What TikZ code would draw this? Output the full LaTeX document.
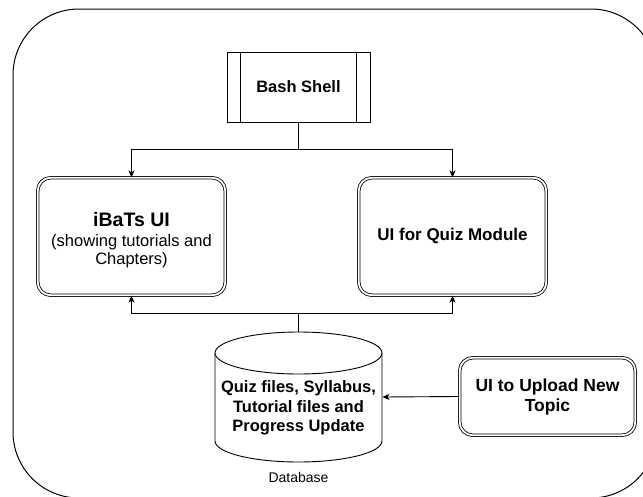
\documentclass[tikz,border=0pt]{standalone}
\usepackage{fontspec}
\setmainfont{Liberation Sans}
\usetikzlibrary{arrows.meta}
\begin{document}
\begin{tikzpicture}[x=1pt,y=-1pt,
  line width=0.9pt,
  conn/.style={draw=black, line width=0.9pt},
  tip/.style={-{Stealth[length=7pt,width=6pt,inset=2pt]}},
  dbox/.style={draw=black, double=white, double distance=1.8pt, line width=0.8pt,
    rounded corners=13pt, align=center, inner sep=2pt},
  bashbox/.style={draw=black, line width=0.9pt, minimum width=143pt, minimum height=70pt,
    font=\fontsize{16.5}{20}\selectfont\bfseries},
  frame/.style={draw=black, line width=1pt, rounded corners=66pt}
]
\useasboundingbox (0,0) rectangle (643,496);
\begin{scope}
  \clip (0,0) rectangle (643,496);
  \node[frame, minimum width=644pt, minimum height=489pt, inner sep=0pt] (outer) at (335,253.5) {};
\end{scope}

% Bash shell (process shape)
\node[bashbox] (bash) at (298.5,87) {Bash Shell};
\draw ([xshift=14pt]bash.north west) -- ([xshift=14pt]bash.south west);
\draw ([xshift=-14pt]bash.north east) -- ([xshift=-14pt]bash.south east);

% UI boxes
\node[dbox, minimum width=187.5pt, minimum height=117.5pt] (ibats) at (131.5,236.5) {};
\node[align=center, font=\fontsize{16.5}{17.5}\selectfont] (ibatstext) at (131.5,240)
  {{\fontsize{19.5}{23}\selectfont\bfseries iBaTs UI}\\[3pt]
   (showing tutorials and\\
   Chapters)};
\node[dbox, minimum width=187.5pt, minimum height=117.5pt,
  font=\fontsize{17}{20}\selectfont\bfseries] (quiz) at (452.5,236.5) {UI for Quiz Module};

% Database cylinder
\node[minimum width=167pt, minimum height=130pt, inner sep=0pt] (db) at (298.5,397) {};
\draw (215,353) -- (215,441) arc[start angle=180, end angle=360, x radius=83.5pt, y radius=21pt] -- (382,353);
\draw[fill=white] (298.5,353) ellipse [x radius=83.5pt, y radius=21pt];
\node[align=center, font=\fontsize{16.5}{19.5}\selectfont\bfseries] (dbtext) at (298.5,408)
  {Quiz files, Syllabus,\\Tutorial files and\\Progress Update};
\node[font=\fontsize{14}{16}\selectfont] (dblabel) at (298.5,477) {Database};

% Upload box
\node[dbox, minimum width=175.5pt, minimum height=77.5pt,
  font=\fontsize{17.5}{20}\selectfont\bfseries] (upload) at (547.5,396.5)
  {UI to Upload New\\Topic};

% connectors
\coordinate (topj) at (298.5,149);
\coordinate (botj) at (298.5,313);
\draw[conn] (bash.south) -- (topj);
\draw[conn, tip] (topj) -| (ibats.north);
\draw[conn, tip] (topj) -| (quiz.north);
\draw[conn] (db.north) -- (botj);
\draw[conn, tip] (botj) -| (ibats.south);
\draw[conn, tip] (botj) -| (quiz.south);
\draw[conn, tip] (upload.west) -- (db.east);
\end{tikzpicture}
\end{document}
